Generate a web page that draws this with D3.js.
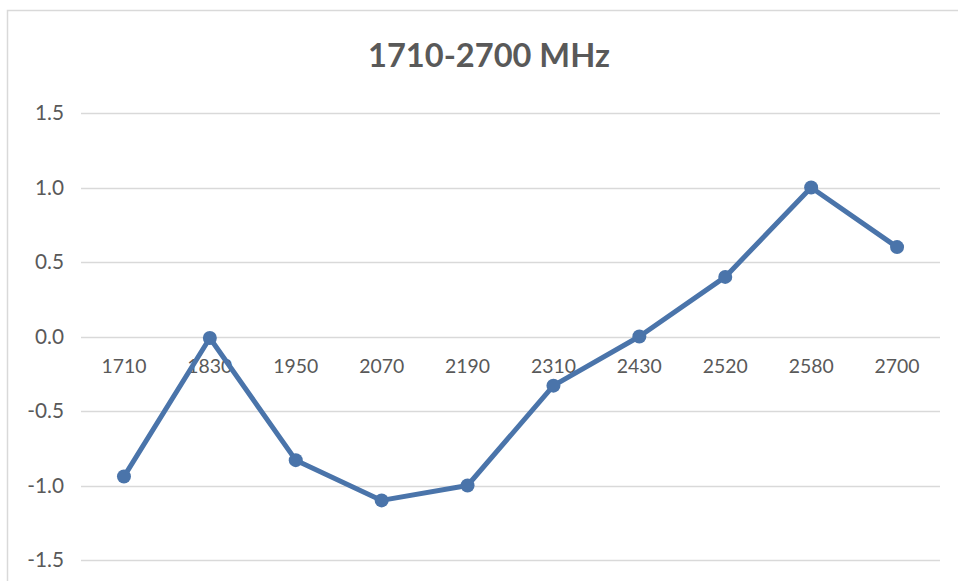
<!DOCTYPE html>
<html><head><meta charset="utf-8">
<script src="https://cdn.jsdelivr.net/npm/d3@7"></script>
<style>html,body{margin:0;padding:0;background:#fff;}svg{display:block;}</style>
</head><body>
<script>
const title = "1710-2700 MHz";
const categories = ["1710","1830","1950","2070","2190","2310","2430","2520","2580","2700"];
const values = [-0.94, -0.01, -0.83, -1.10, -1.00, -0.33, 0.00, 0.40, 1.00, 0.60];
const yTicks = [-1.5, -1.0, -0.5, 0.0, 0.5, 1.0, 1.5];

const W = 958, H = 581;
const svg = d3.select("body").append("svg").attr("width", W).attr("height", H);
const font = "Lato, 'Open Sans', sans-serif";
const textColor = "#595959";

// chart border (top and left visible)
svg.append("path").attr("d", "M7.5,581 L7.5,10.5 L958,10.5")
  .attr("fill", "none").attr("stroke", "#d9d9d9").attr("stroke-width", 1.5);

const x = d3.scaleBand().domain(categories).range([81, 940]);
const y = d3.scaleLinear().domain([-1.5, 1.5]).range([560, 113]);

// gridlines
svg.append("g").selectAll("line").data(yTicks).join("line")
  .attr("x1", 81).attr("x2", 940)
  .attr("y1", d => Math.round(y(d)) + 0.5).attr("y2", d => Math.round(y(d)) + 0.5)
  .attr("stroke", "#d9d9d9").attr("stroke-width", 1.3);

// y axis labels
const yl = svg.append("g").selectAll("text").data(yTicks).join("text")
  .attr("x", 64).attr("y", d => y(d)).attr("dy", "0.35em")
  .attr("text-anchor", "end").attr("font-family", font).attr("font-size", 16)
  .attr("fill", textColor).text(d => d3.format(".1f")(d).replace("−", "-"));

function fitWidth(sel, target) {
  const node = sel.node();
  const w = node.getComputedTextLength();
  const fs = parseFloat(sel.attr("font-size"));
  sel.attr("font-size", fs * target / w);
}
fitWidth(d3.select(yl.nodes()[6]), 29);
yl.attr("font-size", d3.select(yl.nodes()[6]).attr("font-size"));

// category labels along zero line
const cl = svg.append("g").selectAll("text").data(categories).join("text")
  .attr("x", d => x(d) + x.bandwidth() / 2).attr("y", 373)
  .attr("text-anchor", "middle").attr("font-family", font).attr("font-size", 16)
  .attr("fill", textColor).text(d => d);
fitWidth(d3.select(cl.nodes()[0]), 45);
cl.attr("font-size", d3.select(cl.nodes()[0]).attr("font-size"));

// line
const color = "#4a74aa";
const line = d3.line().x((d, i) => x(categories[i]) + x.bandwidth() / 2).y(d => y(d));
svg.append("path").datum(values).attr("d", line)
  .attr("fill", "none").attr("stroke", color).attr("stroke-width", 5)
  .attr("stroke-linejoin", "round");
svg.append("g").selectAll("circle").data(values).join("circle")
  .attr("cx", (d, i) => x(categories[i]) + x.bandwidth() / 2).attr("cy", d => y(d))
  .attr("r", 7).attr("fill", color);

// title
const t = svg.append("text").attr("x", 489).attr("y", 67)
  .attr("text-anchor", "middle").attr("font-family", font).attr("font-weight", "bold")
  .attr("font-size", 30).attr("fill", textColor).text(title);
fitWidth(t, 242);
</script>
</body></html>
